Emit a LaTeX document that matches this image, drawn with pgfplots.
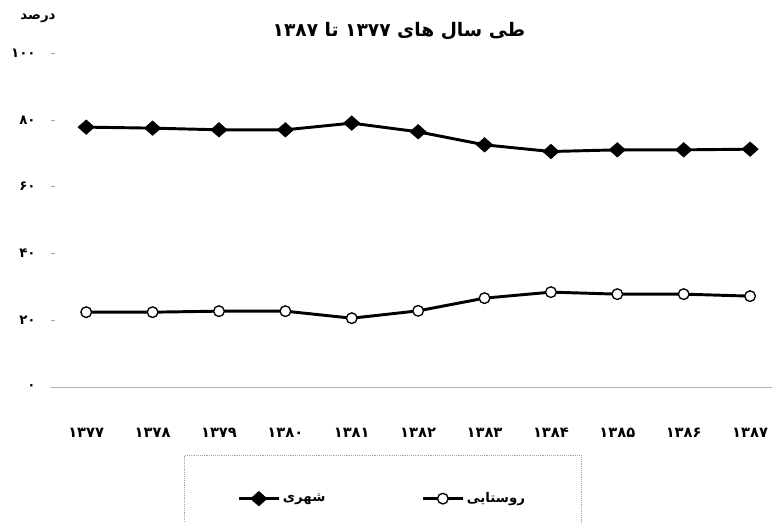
\documentclass[border=0pt]{standalone}
\usepackage{fontspec}
\usepackage{pgfplots}
\pgfplotsset{compat=1.18}
\TeXXeTstate=1
\newfontfamily\arabicfont[Script=Arabic]{DejaVu Sans}

\begin{document}
\begin{tikzpicture}[x=0.75pt,y=0.75pt]
\useasboundingbox (0,0) rectangle (772,523);
\begin{axis}[
  at={(41.25pt,102pt)}, anchor=south west,
  scale only axis, width=537.75pt, height=250.5pt,
  xmin=-0.47, xmax=10.33, ymin=0, ymax=100,
  axis x line=bottom, axis y line=left,
  x axis line style={-, gray!60, thin},
  y axis line style={draw=none},
  xtick={0,...,10},
  xticklabels={۱۳۷۷,۱۳۷۸,۱۳۷۹,۱۳۸۰,۱۳۸۱,۱۳۸۲,۱۳۸۳,۱۳۸۴,۱۳۸۵,۱۳۸۶,۱۳۸۷},
  ytick={0,20,40,60,80,100},
  yticklabels={۰,۲۰,۴۰,۶۰,۸۰,۱۰۰},
  x tick style={draw=none},
  y tick style={gray!70, thin},
  tick align=outside, major tick length=3pt,
  x tick label style={font=\arabicfont\bfseries\fontsize{11}{13}\selectfont, yshift=-24pt},
  y tick label style={font=\arabicfont\bfseries\fontsize{10}{12}\selectfont, xshift=-8pt},
  legend columns=2,
  legend style={at={(axis description cs:0.4568,-0.2036)}, anchor=north,
    draw=gray!70, densely dotted, thin, inner xsep=40pt, inner ysep=26pt,
    font=\arabicfont\bfseries\fontsize{10}{12}\selectfont,
    /tikz/every even column/.append style={column sep=70pt}},
  legend image code/.code={\draw[solid,mark repeat=2,mark phase=2,#1]
    plot coordinates {(0pt,0pt) (15pt,0pt) (30pt,0pt)};},
]
\addplot[black, line width=2.2pt, mark=diamond*, mark size=5.4pt,
  mark options={solid, xscale=1.5, fill=black, line width=0.5pt}] coordinates
  {(0,77.8) (1,77.5) (2,77.0) (3,77.0) (4,79.0) (5,76.4) (6,72.5) (7,70.5) (8,71.0) (9,71.0) (10,71.2)};
\addlegendentry{\beginR شهری\endR}
\addplot[black, line width=2.2pt, mark=*, mark size=4pt,
  mark options={solid, fill=white, draw=black, line width=1pt}] coordinates
  {(0,22.4) (1,22.4) (2,22.7) (3,22.7) (4,20.6) (5,22.8) (6,26.6) (7,28.4) (8,27.8) (9,27.8) (10,27.2)};
\addlegendentry{\beginR روستایی\endR}
\end{axis}
\node[font=\arabicfont\bfseries\fontsize{14}{17}\selectfont] at (399,492)
  {\beginR طی سال های \beginL۱۳۷۷\endL{} تا \beginL۱۳۸۷\endL\endR};
\node[font=\arabicfont\bfseries\fontsize{10}{12}\selectfont] at (38,505) {\beginR درصد\endR};
\end{tikzpicture}
\end{document}
